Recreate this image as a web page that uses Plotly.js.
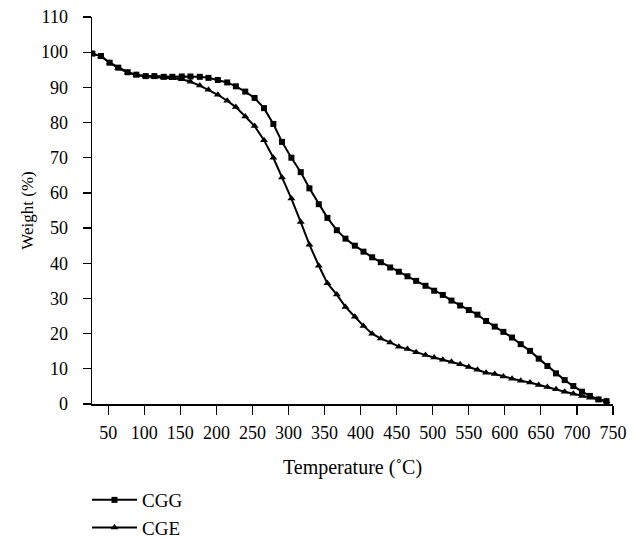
<!DOCTYPE html>
<html>
<head>
<meta charset="utf-8">
<script src="https://cdn.plot.ly/plotly-3.0.1.min.js"></script>
<style>html,body{margin:0;padding:0;background:#fff;}#chart{width:640px;height:539px;}</style>
</head>
<body>
<div id="chart"></div>
<script>
var temperature = [28, 40, 52, 64, 77, 89, 102, 114, 127, 139, 152, 164, 177, 189, 202, 215, 227, 240, 253, 266,
  279, 291, 304, 317, 329, 342, 354, 367, 379, 392, 404, 416, 428, 441, 453, 465, 477, 490, 502, 514,
  526, 538, 550, 562, 574, 586, 598, 610, 622, 635, 647, 659, 671, 683, 695, 707, 718, 730, 741];

var cgg = [99.6, 98.9, 97.0, 95.6, 94.3, 93.6, 93.2, 93.2, 93.0, 93.0, 93.1, 93.1, 93.0, 92.7, 92.1, 91.4, 90.3, 88.8, 87.0, 84.1,
  79.6, 74.5, 70.0, 65.9, 61.3, 56.8, 52.9, 49.4, 47.0, 45.0, 43.3, 41.7, 40.3, 38.8, 37.6, 36.3, 35.0, 33.6, 32.2, 31.0,
  29.4, 28.0, 26.7, 25.4, 23.6, 22.0, 20.5, 18.9, 17.0, 15.1, 12.9, 10.8, 8.7, 6.8, 5.1, 3.5, 2.3, 1.3, 0.8];

var cge = [99.6, 98.8, 97.0, 95.5, 94.2, 93.5, 93.1, 93.0, 92.8, 92.6, 92.3, 91.6, 90.5, 89.3, 87.9, 86.2, 84.4, 81.7, 79.0, 75.0,
  70.0, 64.4, 58.4, 51.7, 45.3, 39.3, 34.3, 31.1, 27.6, 24.8, 22.2, 20.0, 18.6, 17.5, 16.3, 15.6, 14.7, 13.9, 13.2, 12.6,
  12.0, 11.3, 10.5, 9.7, 8.9, 8.5, 7.8, 7.2, 6.6, 6.1, 5.4, 4.8, 4.2, 3.5, 2.9, 2.3, 1.8, 1.2, 0.8];

var seriesNames = ['CGG', 'CGE'];
var xTicks = [50, 100, 150, 200, 250, 300, 350, 400, 450, 500, 550, 600, 650, 700, 750];
var yTicks = [0, 10, 20, 30, 40, 50, 60, 70, 80, 90, 100, 110];

var fontFamily = 'Liberation Serif, Times New Roman, serif';

var traces = [
  {x: temperature, y: cgg, name: seriesNames[0], mode: 'lines+markers', type: 'scatter',
   line: {color: '#000', width: 2}, marker: {symbol: 'square', size: 6, color: '#000'}},
  {x: temperature, y: cge, name: seriesNames[1], mode: 'lines+markers', type: 'scatter',
   line: {color: '#000', width: 2}, marker: {symbol: 'triangle-up', size: 7, color: '#000'}}
];

var layout = {
  width: 640, height: 539,
  margin: {l: 92, r: 27, t: 17, b: 135, pad: 0, autoexpand: false},
  paper_bgcolor: '#fff', plot_bgcolor: '#fff',
  font: {family: fontFamily, size: 18, color: '#000'},
  showlegend: true,
  legend: {x: -0.0096, xanchor: 'left', y: -0.199, yanchor: 'top',
           orientation: 'v', itemwidth: 45,
           font: {family: fontFamily, size: 19, color: '#000'}, bgcolor: 'rgba(0,0,0,0)', tracegroupgap: 0},
  xaxis: {
    range: [27.5, 750], tickvals: xTicks, ticktext: xTicks.map(String),
    showgrid: false, zeroline: false, showline: true, linecolor: '#000', linewidth: 1.5,
    ticks: 'outside', ticklen: 9, tickwidth: 1.2, tickcolor: '#000', ticklabelstandoff: 3,
    tickfont: {family: fontFamily, size: 18, color: '#000'},
    title: {text: 'Temperature (˚C)', font: {family: fontFamily, size: 20, color: '#000'}, standoff: 18}
  },
  yaxis: {
    range: [0, 110], tickvals: yTicks, ticktext: yTicks.map(String),
    showgrid: false, zeroline: false, showline: true, linecolor: '#000', linewidth: 1.5,
    ticks: 'outside', ticklen: 8, tickwidth: 1.2, tickcolor: '#000', ticklabelstandoff: 11,
    tickfont: {family: fontFamily, size: 18, color: '#000'},
    title: {text: 'Weight (%)', font: {family: fontFamily, size: 17, color: '#000'}, standoff: 3}
  }
};

Plotly.newPlot('chart', traces, layout, {displayModeBar: false, staticPlot: true});
</script>
</body>
</html>
